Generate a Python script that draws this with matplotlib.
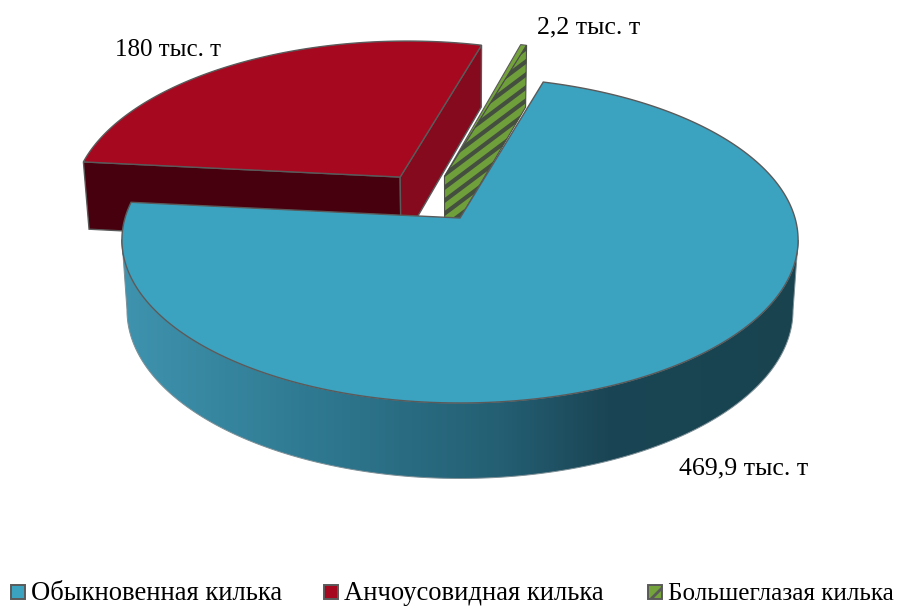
import numpy as np
import matplotlib
matplotlib.use("Agg")
import matplotlib.pyplot as plt
from matplotlib.patches import Polygon, Rectangle
from matplotlib.colors import LinearSegmentedColormap

names = ["Обыкновенная килька", "Анчоусовидная килька", "Большеглазая килька"]
values = [469.9, 180.0, 2.2]
value_labels = ["469,9 тыс. т", "180 тыс. т", "2,2 тыс. т"]

W, H = 908, 606
plt.rcParams["font.family"] = ["Liberation Serif", "DejaVu Serif"]
plt.rcParams["hatch.linewidth"] = 2.0
fig = plt.figure(figsize=(W / 100, H / 100), dpi=100)
ax = fig.add_axes([0, 0, 1, 1])
ax.set_xlim(0, W)
ax.set_ylim(H, 0)
ax.axis("off")

# projection of the unit disc onto the picture
CX, CY, A, B, K = 460.0, 218.0, 335.0, 160.0, 0.135
EDGE = "#5a5a5a"
START = 16.3
offsets = [(0.0, 0.0), (-0.185, 0.265), (-0.048, 0.27)]
far_stretch = [1.0, 1.035, 1.035]


def top(x, y):
    d = 1 + K * y
    return CX + A * x / d, CY - B * y / d


def bottom(x, y):
    px, py = top(x, y)
    return CX + (px - CX) * 0.985, py + 69.5 - 6 * y


def disc(theta, i):
    t = np.radians(theta)
    return np.sin(t) + offsets[i][0], np.cos(t) * far_stretch[i] + offsets[i][1]


fr = np.array(values) / np.sum(values)
edges = START + 360 * np.concatenate([[0], np.cumsum(fr)])


def arc(i, n=240):
    return np.linspace(edges[i], edges[i + 1], n)


def top_poly(i):
    pts = [top(*offsets[i])] + [top(*disc(t, i)) for t in arc(i)]
    return np.array(pts)


# anchovy sprat: two radial walls, then the top face
o = offsets[1]
for th, col in [(edges[1], "#47000e"), (edges[2], "#850a1e")]:
    p = disc(th, 1)
    ax.add_patch(Polygon([top(*o), top(*p), bottom(*p), bottom(*o)], closed=True,
                         fc=col, ec=EDGE, lw=1, zorder=2))
ax.add_patch(Polygon(top_poly(1), closed=True, fc="#a60820", ec=EDGE, lw=1, zorder=3))

# big-eyed sprat: one striped wall and the thin top face
o = offsets[2]
p = disc(edges[3], 2)
ax.add_patch(Polygon(top_poly(2), closed=True, fc="#74a33c", ec=EDGE, lw=0.8, zorder=3))
wall = Polygon([top(*o), top(*p), bottom(*p), bottom(*o)], closed=True,
               fc="#6f9f3a", ec="#4b4f48", lw=0.8, zorder=3)
ax.add_patch(wall)
for y0 in np.arange(300, 700, 13.0):
    line, = ax.plot([430, 540], [y0 - 0.75 * 430, y0 - 0.75 * 540], color="#454f40",
                    lw=3.0, solid_capstyle="butt", zorder=3.1)
    line.set_clip_path(wall)

# common sprat: shaded side wall, a gradient clipped to the silhouette
cmap = LinearSegmentedColormap.from_list(
    "wall", [(0, "#3f93ae"), (0.27, "#2f7a92"), (0.56, "#245f73"),
             (0.72, "#1a4554"), (1, "#18434f")])
ts = arc(0, 800)
rim = np.array([top(*disc(t, 0)) for t in ts])
low = np.array([bottom(*disc(t, 0)) for t in ts])
i0, i1 = np.argmax(rim[:, 0]), np.argmin(rim[:, 0])
sil = np.vstack([rim[i0:i1 + 1], low[i0:i1 + 1][::-1]])
clip = Polygon(sil, closed=True, fc="none", ec="#7d8f96", lw=0.7, zorder=4.1)
ax.add_patch(clip)
im = ax.imshow(np.linspace(0, 1, 400)[None, :], cmap=cmap, vmin=0, vmax=1, aspect="auto",
               extent=(122, 798, 500, 200), zorder=4)
im.set_clip_path(clip)
ax.set_xlim(0, W)
ax.set_ylim(H, 0)
ax.add_patch(Polygon(top_poly(0), closed=True, fc="#3ba2c0", ec=EDGE, lw=1, zorder=5))

# value labels
FS = 18.6
ax.text(744, 468.5, value_labels[0], fontsize=FS, ha="center", va="center", zorder=6)
ax.text(168, 49.5, value_labels[1], fontsize=18.0, ha="center", va="center", zorder=6)
ax.text(588.5, 27.5, value_labels[2], fontsize=FS, ha="center", va="center", zorder=6)

# legend
swatch_x = [11, 324, 648]
legend_sizes = [19.2, 19.2, 18.1]
colors = ["#3ba2c0", "#a60820", "#74a33c"]
for i, (sx, name, c, fs) in enumerate(zip(swatch_x, names, colors, legend_sizes)):
    ax.add_patch(Rectangle((sx, 585), 14, 14, fc=c, ec="#5a5a5a", lw=1.4,
                           hatch="//" if i == 2 else None, zorder=6))
    ax.text(sx + 20, 593.5, name, fontsize=fs, ha="left", va="center", zorder=6)

fig.savefig("out.png", dpi=100)
